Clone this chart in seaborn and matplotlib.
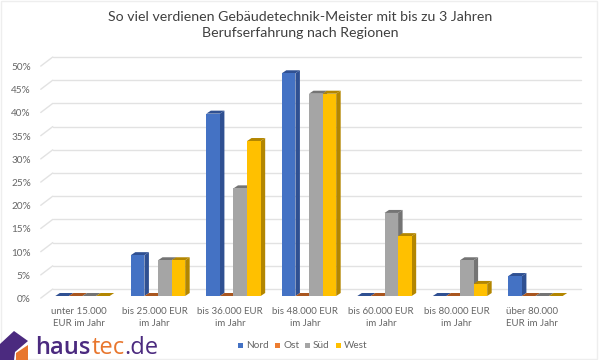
import numpy as np
import pandas as pd
import seaborn as sns
import matplotlib.pyplot as plt
from matplotlib.patches import Polygon, Rectangle
from matplotlib.transforms import Affine2D

# werte
kategorien = ['unter 15.000\nEUR im Jahr', 'bis 25.000 EUR\nim Jahr', 'bis 36.000 EUR\nim Jahr',
              'bis 48.000 EUR\nim Jahr', 'bis 60.000 EUR\nim Jahr', 'bis 80.000 EUR\nim Jahr',
              'über 80.000\nEUR im Jahr']
nord = [0, 8.8, 39.3, 48.0, 0, 0, 4.3]
ost = [0, 0, 0, 0, 0, 0, 0]
sued = [0, 7.7, 23.2, 43.6, 17.9, 7.7, 0]
west = [0, 7.7, 33.4, 43.6, 12.9, 2.6, 0]
regionen = ['Nord', 'Ost', 'Süd', 'West']
farben = ['#4472c4', '#ed7d31', '#a5a5a5', '#ffc000']
seiten = ['#2f5092', '#a9561f', '#747474', '#b38600']
yticks = [0, 5, 10, 15, 20, 25, 30, 35, 40, 45, 50]
titel = 'So viel verdienen Gebäudetechnik-Meister mit bis zu 3 Jahren\nBerufserfahrung nach Regionen'

df = pd.DataFrame({'kategorie': kategorien, 'Nord': nord, 'Ost': ost, 'Süd': sued, 'West': west})
df = df.melt(id_vars='kategorie', var_name='region', value_name='wert')

sns.set_theme(style='white')
plt.rcParams['font.family'] = ['Lato', 'DejaVu Sans']
grau = '#666666'
gitter = '#e2e2e2'

fig = plt.figure(figsize=(6, 3.6), dpi=100)
ax = fig.add_axes([44.75 / 600, 64 / 360, 528.5 / 600, 232 / 360])
sns.barplot(data=df, x='kategorie', y='wert', hue='region', hue_order=regionen,
            palette=farben, saturation=1, width=0.72, gap=0, legend=False, ax=ax, zorder=3, linewidth=0)
ax.set_xlim(-0.5, 6.5)
ax.set_ylim(0, 50)
ax.set_xlabel('')
ax.set_ylabel('')
sns.despine(ax=ax, left=True, bottom=True)

# pixel in datenwerte umrechnen
px_x = 7 / 528.5
px_y = 50 / 232
tiefe_x, tiefe_y = 4.5 * px_x, 3 * px_y

# 3d-effekt der balken, seiten liegen hinter den vorderseiten
for i, region in enumerate(regionen):
    z = 2 + i * 0.1
    for bar in ax.containers[i]:
        x0, x1 = bar.get_x(), bar.get_x() + bar.get_width()
        h = bar.get_height()
        ax.add_patch(Polygon([(x1, 0), (x1 + tiefe_x, tiefe_y), (x1 + tiefe_x, h + tiefe_y), (x1, h)],
                             fc=seiten[i], ec='none', clip_on=False, zorder=z))
        ax.add_patch(Polygon([(x0, h), (x0 + tiefe_x, h + tiefe_y), (x1 + tiefe_x, h + tiefe_y), (x1, h)],
                             fc=seiten[i], ec='none', clip_on=False, zorder=z))

# gitter auf der rückwand
wand_x, wand_y = 8 * px_x, 7 * px_y
for t in yticks:
    ax.plot([-0.5 + wand_x, 6.5 + wand_x], [t + wand_y, t + wand_y], color=gitter, lw=1,
            clip_on=False, zorder=1)
    ax.plot([-0.5 - 0.5 * wand_x, -0.5 + wand_x], [t - 0.3 * wand_y, t + wand_y], color=gitter, lw=1,
            clip_on=False, zorder=1)

ax.set_yticks(yticks)
ax.set_yticklabels([f'{t}%' for t in yticks], fontsize=7.2, color=grau)
ax.tick_params(axis='y', pad=10, length=0)
ax.tick_params(axis='x', pad=8, length=0, labelsize=7, labelcolor=grau)
for lab in ax.get_yticklabels():
    lab.set_transform(lab.get_transform() + Affine2D().translate(0, -2.5))
for lab in ax.get_xticklabels():
    lab.set_linespacing(1.4)
    lab.set_transform(lab.get_transform() + Affine2D().translate(-3.5, 0))

fig.text(0.5, 0.93, titel, ha='center', va='center', fontsize=10.2, color='#404040', linespacing=1.45)

# pixel-koordinaten für legende und logo
pixel = Affine2D()

# legende
leg_x = [238, 275, 305, 336]
for lx, name, f in zip(leg_x, regionen, farben):
    fig.add_artist(Rectangle((lx, 360 - 347.5), 5, 5, fc=f, ec='none', transform=pixel))
    fig.text((lx + 8) / 600, 1 - 345 / 360, name, fontsize=7.2, color=grau, va='center')

# rahmen
fig.add_artist(Rectangle((1, 1), 596, 358, fc='none', ec='#eeeeee', lw=1, transform=pixel))

# logo
lila = '#4b2a7f'
orange = '#e8762d'
fig.add_artist(Polygon([(0, 16), (14, 29), (28, 19), (15, 8), (14, 0), (0, 0)], closed=True,
                       fc=lila, ec='none', transform=pixel))
fig.add_artist(Polygon([(16, 0), (28, 0), (28, 15), (16, 7)], closed=True, fc=orange, ec='none', transform=pixel))
r = fig.canvas.get_renderer()
t1 = fig.text(35 / 600, 6 / 360, 'haus', fontsize=17, color=lila, va='baseline', family='Open Sans', weight='semibold')
b = t1.get_window_extent(r)
t2 = fig.text((b.x1 + 1) / 600, 6 / 360, 'tec', fontsize=17, color=orange, va='baseline', family='Open Sans')
b = t2.get_window_extent(r)
fig.text(b.x1 / 600, 6 / 360, '.de', fontsize=17, color=lila, va='baseline', family='Open Sans')

fig.savefig('out.png', dpi=100)
